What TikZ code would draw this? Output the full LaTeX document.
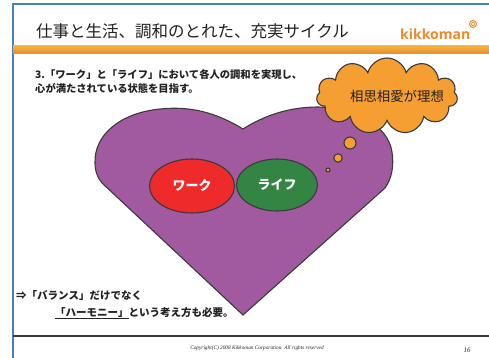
\documentclass[tikz,border=0pt]{standalone}
\usepackage{fontspec}
\setmainfont{Noto Sans CJK JP}
\newfontfamily\jp{Noto Sans CJK JP}
\newfontfamily\logofont{Open Sans}
\newfontfamily\copyfont{Liberation Serif}
\usetikzlibrary{positioning,shapes.geometric,shapes.symbols}
\definecolor{frameblue}{HTML}{4A7EBB}
\definecolor{baryellow}{HTML}{F2B33D}
\definecolor{barorange}{HTML}{EC8A2E}
\definecolor{logoorange}{HTML}{EE8A2A}
\definecolor{linegray}{HTML}{3A3A3A}
\definecolor{heartpurple}{HTML}{A15AA0}
\definecolor{cloudorange}{HTML}{F59E32}
\definecolor{workred}{HTML}{EE2A2A}
\definecolor{lifegreen}{HTML}{348444}
\definecolor{textgray}{HTML}{222222}

\begin{document}
\begin{tikzpicture}[x=1pt,y=-1pt,
	outline/.style={draw=linegray,line width=1.1pt},
	bubble/.style={circle,outline,fill=cloudorange,inner sep=0pt},
	sphere/.style={ellipse,outline,text=white,inner sep=0pt,
		font=\jp\bfseries\fontsize{13}{13}\selectfont},
	bodytext/.style={anchor=west,inner sep=0pt,text=textgray,
		font=\jp\bfseries\fontsize{10.3}{10.3}\selectfont}]
	\useasboundingbox (0,0) rectangle (489,358);
	\fill[white] (0,0) rectangle (489,358);

	% page frame and header band
	\draw[frameblue,line width=1.5pt] (13,358) -- (13,4) -- (489,4);
	\fill[top color=baryellow,bottom color=barorange] (13,46) rectangle (489,54);
	\node[anchor=west,inner sep=0pt,text=textgray,
		font=\jp\fontsize{16.5}{16.5}\selectfont] (title) at (36,31)
		{仕事と生活、調和のとれた、充実サイクル};
	\node[anchor=west,inner sep=0pt,text=logoorange,
		font=\logofont\bfseries\fontsize{14}{14}\selectfont] (logo) at (400,34) {kikkoman};
	\node[circle,draw=logoorange,line width=1pt,minimum size=7pt,inner sep=0pt] (mark) at (473,24) {};
	\node[regular polygon,regular polygon sides=6,draw=logoorange,line width=0.6pt,
		minimum size=3.5pt,inner sep=0pt] at (mark) {};

	\node[bodytext] (point) at (35,75) {3.「ワーク」と「ライフ」において各人の調和を実現し、};
	\node[bodytext] (point2) at (35,88) {心が満たされている状態を目指す。};

	% heart
	\draw[outline,fill=heartpurple] (243,129)
		.. controls (215,112) and (190,106) .. (160,109)
		.. controls (120,113) and (94,135) .. (95,163)
		.. controls (95,172) and (98,178) .. (102,183)
		-- (243,315) -- (385,188)
		.. controls (392,178) and (394,166) .. (392,152)
		.. controls (388,125) and (355,108) .. (318,107)
		.. controls (290,107) and (265,115) .. (243,129) -- cycle;

	\node[sphere,fill=workred,minimum width=85pt,minimum height=54pt] (work) at (192,186) {ワーク};
	\node[sphere,fill=lifegreen,minimum width=81pt,minimum height=52pt] (life) at (277,185) {ライフ};

	% thought cloud
	\node[cloud,cloud puffs=11,aspect=1.9,outline,fill=cloudorange,
		minimum width=141pt,minimum height=76pt] (ideal) at (387,96) {};
	\node[text=textgray,font=\jp\fontsize{13.4}{13.4}\selectfont] (idealtext) at (397,96) {相思相愛が理想};
	\node[bubble,minimum size=12pt] (b1) at (350,143) {};
	\node[bubble,minimum size=8.5pt] (b2) at (338,158) {};
	\node[bubble,minimum size=4pt] (b3) at (328,170) {};

	\node[bodytext,font=\jp\bfseries\fontsize{10.5}{10.5}\selectfont] (balance) at (16,296)
		{⇒「バランス」だけでなく};
	\node[bodytext,font=\jp\bfseries\fontsize{10.5}{10.5}\selectfont] (harmony) at (55,313)
		{\underline{「ハーモニー」}という考え方も必要。};

	% footer
	\draw[linegray,line width=1.5pt] (13,336) -- (489,336);
	\node[inner sep=0pt,text=textgray,font=\copyfont\itshape\fontsize{5.3}{6}\selectfont] (copy) at (257,348)
		{Copyright(C) 2008 Kikkoman Corporation. All rights reserved};
	\node[inner sep=0pt,text=textgray,font=\copyfont\itshape\fontsize{7}{7}\selectfont] (page) at (467,350) {16};
\end{tikzpicture}
\end{document}
